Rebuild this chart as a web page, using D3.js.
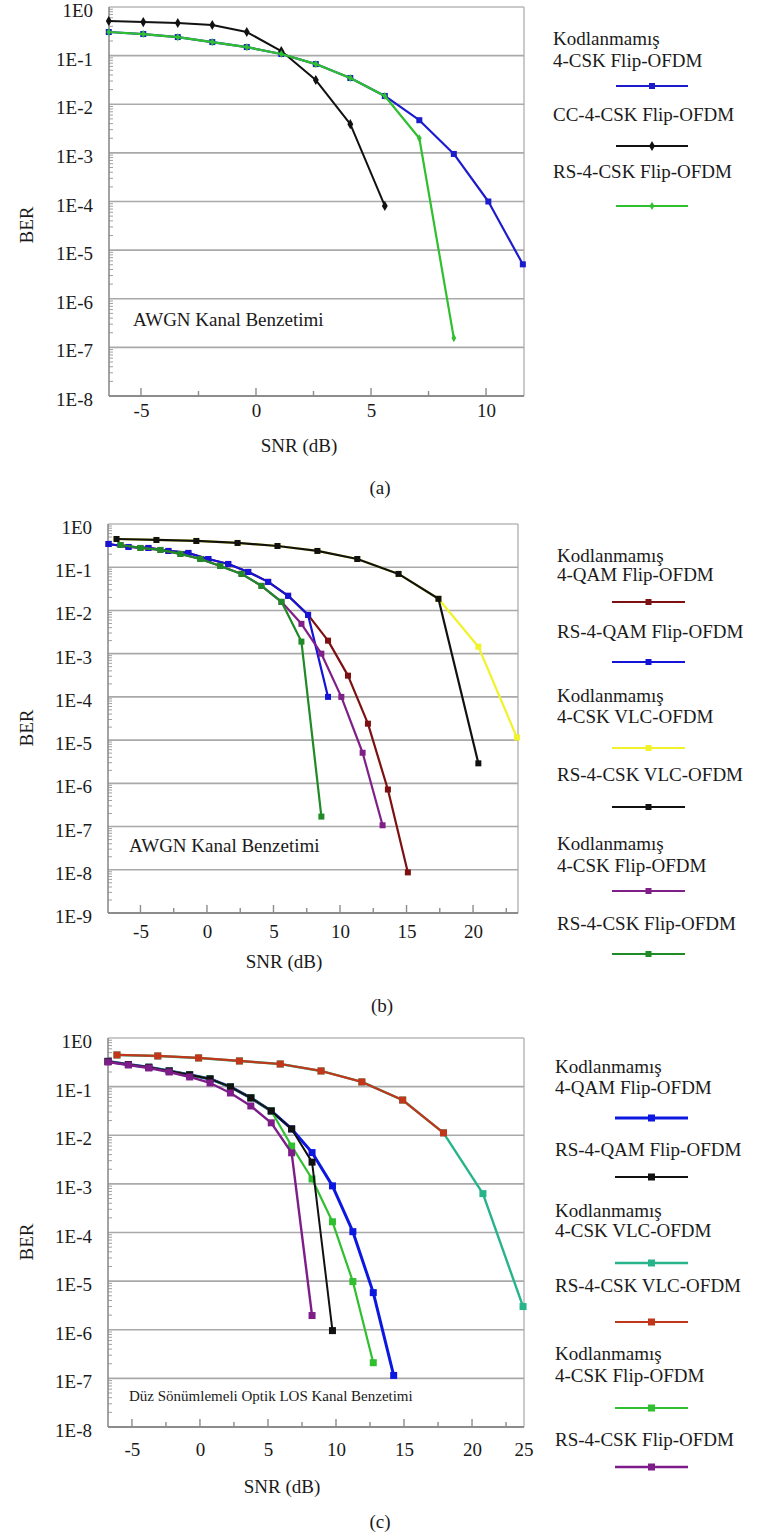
<!DOCTYPE html>
<html><head><meta charset="utf-8">
<script src="https://cdn.jsdelivr.net/npm/d3@7"></script>
<style>
body{margin:0;background:#fff}
svg text{font-family:"Liberation Serif","Times New Roman","DejaVu Serif",serif;fill:#1a1a1a}
</style>
</head><body>
<svg id="chart" width="758" height="1535" font-family="Liberation Serif, Times New Roman, serif"></svg>
<script>
// ---------- Panel (a) data ----------
const aSNR = [-6.4, -4.9, -3.4, -1.9, -0.4, 1.1, 2.6, 4.1, 5.6, 7.1, 8.6, 10.1, 11.6];
const aBerUncodedFlip = [0.306, 0.278, 0.241, 0.19, 0.150, 0.108, 0.067, 0.0346, 0.0148, 4.7e-3, 9.5e-4, 1.0e-4, 5.1e-6];
const aBerCCFlip = [0.515, 0.49, 0.469, 0.426, 0.306, 0.124, 0.0315, 3.9e-3, 8.1e-5];
const aBerRSFlip = [0.306, 0.278, 0.241, 0.19, 0.150, 0.108, 0.067, 0.0346, 0.0148, 2.0e-3, 1.55e-7];
const aLegend = [["Kodlanmamış", "4-CSK Flip-OFDM"], ["CC-4-CSK Flip-OFDM"], ["RS-4-CSK Flip-OFDM"]];

// ---------- Panel (b) data ----------
const bSNRqam = [-7.4, -5.9, -4.4, -2.9, -1.4, 0.1, 1.6, 3.1, 4.6, 6.1, 7.6, 9.1, 10.6, 12.1, 13.6, 15.1];
const bBerUncodedQAM = [0.345, 0.294, 0.279, 0.238, 0.214, 0.155, 0.119, 0.0778, 0.0458, 0.0218, 7.9e-3, 2.0e-3, 3.1e-4, 2.4e-5, 7.2e-7, 8.7e-9];
const bBerRSQAM = [0.345, 0.294, 0.279, 0.238, 0.214, 0.155, 0.119, 0.0778, 0.0458, 0.0218, 7.9e-3, 1.0e-4];
const bSNRvlc = [-6.8, -3.8, -0.8, 2.3, 5.3, 8.3, 11.3, 14.4, 17.4, 20.4, 23.3];
const bBerUncodedVLC = [0.45, 0.427, 0.405, 0.364, 0.31, 0.238, 0.155, 0.07, 0.0186, 1.45e-3, 1.15e-5];
const bBerRSVLC = [0.45, 0.427, 0.405, 0.364, 0.31, 0.238, 0.155, 0.07, 0.0186, 2.9e-6];
const bSNRflip = [-6.5, -5.0, -3.5, -2.0, -0.5, 1.0, 2.6, 4.1, 5.6, 7.1, 8.6, 10.1, 11.7, 13.2];
const bBerUncodedFlip = [0.327, 0.279, 0.251, 0.203, 0.155, 0.107, 0.07, 0.037, 0.0158, 4.9e-3, 1.0e-3, 1.0e-4, 5.1e-6, 1.07e-7];
const bBerRSFlip = [0.327, 0.279, 0.251, 0.203, 0.155, 0.107, 0.07, 0.037, 0.0158, 1.9e-3, 1.7e-7];
const bLegend = [["Kodlanmamış", "4-QAM Flip-OFDM"], ["RS-4-QAM Flip-OFDM"], ["Kodlanmamış", "4-CSK VLC-OFDM"],
                 ["RS-4-CSK VLC-OFDM"], ["Kodlanmamış", "4-CSK Flip-OFDM"], ["RS-4-CSK Flip-OFDM"]];

// ---------- Panel (c) data ----------
const cSNRflip = [-6.76, -5.26, -3.76, -2.26, -0.76, 0.74, 2.24, 3.74, 5.24, 6.74, 8.24, 9.74, 11.24, 12.74, 14.24];
const cBerUncodedQAM = [0.33, 0.285, 0.25, 0.21, 0.175, 0.144, 0.0986, 0.0587, 0.0316, 0.0135, 4.4e-3, 9.1e-4, 1.04e-4, 5.8e-6, 1.15e-7];
const cBerRSQAM = [0.33, 0.285, 0.25, 0.21, 0.175, 0.144, 0.0986, 0.0587, 0.0316, 0.0135, 2.8e-3, 9.6e-7];
const cBerUncodedFlip = [0.33, 0.285, 0.25, 0.21, 0.175, 0.144, 0.0986, 0.0587, 0.0316, 6.0e-3, 1.26e-3, 1.66e-4, 9.8e-6, 2.1e-7];
const cBerRSFlip = [0.321, 0.279, 0.242, 0.2, 0.158, 0.119, 0.074, 0.04, 0.018, 4.36e-3, 1.96e-6];
const cSNRvlc = [-6.1, -3.1, -0.1, 2.9, 5.9, 8.9, 11.9, 14.9, 17.9, 20.8, 23.75];
const cBerUncodedVLC = [0.448, 0.427, 0.389, 0.337, 0.292, 0.21, 0.125, 0.053, 0.0112, 6.3e-4, 3.0e-6];
const cBerRSVLC = [0.448, 0.427, 0.389, 0.337, 0.292, 0.21, 0.125, 0.053, 0.0112];
const cLegend = bLegend;

// ---------- Shared labels ----------
const yTitle = "BER";
const xTitle = "SNR (dB)";
const captions = ["(a)", "(b)", "(c)"];
const noteA = "AWGN Kanal Benzetimi";
const noteC = "Düz Sönümlemeli Optik LOS Kanal Benzetimi";

const zip = (xs, ys) => ys.map((v, i) => ({x: xs[i], y: v}));

const panels = [
  {
    box: {l: 109, t: 7, r: 524, b: 396}, xDom: [-6.39, 11.65], yMin: 1e-8,
    xMajor: [-5, 0, 5, 10], xMinor: [-2.5, 2.5, 7.5], extraXLabel: null,
    xLabelOff: 21, yTitlePos: [33, 225], xTitlePos: [299, 452], caption: [380, 494],
    note: {text: noteA, x: 133, y: 326, size: 19},
    drawOrder: [0, 1, 2],
    series: [
      {d: zip(aSNR, aBerUncodedFlip), c: "#1c1ccc", w: 2.2, m: "square", s: 6},
      {d: zip(aSNR, aBerCCFlip), c: "#111", w: 2, m: "diamond", s: 5},
      {d: zip(aSNR, aBerRSFlip), c: "#2fbf2f", w: 2.2, m: "diamond", s: 4}
    ],
    legend: {labels: aLegend, tx: 553, base: [[45, 67], [121], [178]], ly: [86, 146, 206], lx: [616, 688]}
  },
  {
    box: {l: 108, t: 524, r: 518, b: 913}, xDom: [-7.44, 23.38], yMin: 1e-9,
    xMajor: [-5, 0, 5, 10, 15, 20], xMinor: [-2.5, 2.5, 7.5, 12.5, 17.5, 22.5], extraXLabel: null,
    xLabelOff: 25, yTitlePos: [33, 728], xTitlePos: [284, 968], caption: [382, 1012],
    note: {text: noteA, x: 129, y: 852, size: 19},
    drawOrder: [0, 1, 2, 3, 4, 5],
    series: [
      {d: zip(bSNRqam, bBerUncodedQAM), c: "#7d1010", w: 2.2, m: "square", s: 6},
      {d: zip(bSNRqam, bBerRSQAM), c: "#1414d8", w: 2.2, m: "square", s: 6},
      {d: zip(bSNRvlc, bBerUncodedVLC), c: "#f2f22a", w: 2.2, m: "square", s: 6},
      {d: zip(bSNRvlc, bBerRSVLC), c: "#111", w: 2.2, m: "square", s: 6},
      {d: zip(bSNRflip, bBerUncodedFlip), c: "#7f2088", w: 2.2, m: "square", s: 6},
      {d: zip(bSNRflip, bBerRSFlip), c: "#1f8a26", w: 2.2, m: "square", s: 6}
    ],
    legend: {labels: bLegend, tx: 557, base: [[562, 581], [638], [702, 723], [781], [850, 872], [930]],
             ly: [602, 662, 748, 807, 891, 954], lx: [612, 685]}
  },
  {
    box: {l: 108, t: 1038, r: 524, b: 1427}, xDom: [-6.76, 23.82], yMin: 1e-8,
    xMajor: [-5, 0, 5, 10, 15, 20], xMinor: [-2.5, 2.5, 7.5, 12.5, 17.5, 22.5], extraXLabel: "25",
    xLabelOff: 29, yTitlePos: [33, 1242], xTitlePos: [282, 1493], caption: [380, 1528],
    note: {text: noteC, x: 129, y: 1401, size: 15},
    drawOrder: [0, 4, 2, 3, 1, 5],
    series: [
      {d: zip(cSNRflip, cBerUncodedQAM), c: "#0c18e0", w: 3, m: "square", s: 7},
      {d: zip(cSNRflip, cBerRSQAM), c: "#111", w: 2, m: "square", s: 7},
      {d: zip(cSNRvlc, cBerUncodedVLC), c: "#27b48a", w: 2.4, m: "square", s: 7},
      {d: zip(cSNRvlc, cBerRSVLC), c: "#c2361a", w: 2.2, m: "square", s: 7},
      {d: zip(cSNRflip, cBerUncodedFlip), c: "#2fbf2f", w: 2.2, m: "square", s: 7},
      {d: zip(cSNRflip, cBerRSFlip), c: "#7e1d8a", w: 2.4, m: "square", s: 7}
    ],
    legend: {labels: cLegend, tx: 555, base: [[1073, 1094], [1156], [1217, 1237], [1292], [1360, 1382], [1446]],
             ly: [1118, 1177, 1263, 1322, 1408, 1467], lx: [615, 688]}
  }
];

const svg = d3.select("#chart");
const gridColor = "#a9a9a9", axisColor = "#8c8c8c";
const FONT = '"Liberation Serif","Times New Roman","DejaVu Serif",serif';

function drawMarker(g, m, cx, cy, s, color) {
  if (m === "square") {
    g.append("rect").attr("x", cx - s / 2).attr("y", cy - s / 2).attr("width", s).attr("height", s).attr("fill", color);
  } else {
    g.append("path").attr("d", d3.symbol(d3.symbolDiamond, s * s * 1.2)()).attr("transform", `translate(${cx},${cy})`).attr("fill", color);
  }
}

function txt(g) {
  return g.append("text").style("font-family", FONT).style("font-size", "19px").attr("fill", "#1a1a1a");
}

panels.forEach((p, pi) => {
  const B = p.box;
  const x = d3.scaleLinear().domain(p.xDom).range([B.l, B.r]);
  const y = d3.scaleLog().domain([p.yMin, 1]).range([B.b, B.t]);
  const g = svg.append("g");
  const nDec = Math.round(-Math.log10(p.yMin));
  const decades = d3.range(0, nDec + 1).map(k => Math.pow(10, -k));

  // frame (top & right)
  g.append("line").attr("x1", B.l).attr("x2", B.r).attr("y1", B.t).attr("y2", B.t).attr("stroke", "#b9b9b9").attr("stroke-width", 1.5);
  g.append("line").attr("x1", B.r).attr("x2", B.r).attr("y1", B.t).attr("y2", B.b).attr("stroke", "#b9b9b9").attr("stroke-width", 1.5);
  // gridlines
  g.selectAll(".grid").data(decades.filter(d => d > p.yMin && d < 1)).enter().append("line")
    .attr("x1", B.l).attr("x2", B.r).attr("y1", d => y(d)).attr("y2", d => y(d))
    .attr("stroke", gridColor).attr("stroke-width", 1.6);

  // y minor ticks
  const minors = [];
  for (let k = 1; k <= nDec; k++) for (let m = 2; m <= 9; m++) minors.push(m * Math.pow(10, -k));
  g.selectAll(".ymin").data(minors).enter().append("line")
    .attr("x1", B.l).attr("x2", B.l + 4).attr("y1", d => y(d)).attr("y2", d => y(d))
    .attr("stroke", "#a0a0a0").attr("stroke-width", 1);

  // axis lines
  g.append("line").attr("x1", B.l).attr("x2", B.l).attr("y1", B.t).attr("y2", B.b).attr("stroke", axisColor).attr("stroke-width", 1.6);
  g.append("line").attr("x1", B.l).attr("x2", B.r).attr("y1", B.b).attr("y2", B.b).attr("stroke", axisColor).attr("stroke-width", 1.8);

  // x ticks (inside, upward)
  g.selectAll(".xmaj").data(p.xMajor).enter().append("line")
    .attr("x1", d => x(d)).attr("x2", d => x(d)).attr("y1", B.b).attr("y2", B.b - 8)
    .attr("stroke", axisColor).attr("stroke-width", 1.4);
  g.selectAll(".xmin").data(p.xMinor.filter(d => d > p.xDom[0] && d < p.xDom[1])).enter().append("line")
    .attr("x1", d => x(d)).attr("x2", d => x(d)).attr("y1", B.b).attr("y2", B.b - 5)
    .attr("stroke", axisColor).attr("stroke-width", 1.4);

  // y axis labels
  const yAxis = d3.axisLeft(y).tickValues(decades).tickSize(0).tickPadding(16)
    .tickFormat(d => "1E" + Math.round(Math.log10(d)));
  const ya = g.append("g").attr("transform", `translate(${B.l},0)`).call(yAxis);
  ya.select(".domain").remove();
  ya.attr("font-family", null).attr("font-size", null);
  ya.selectAll("text").attr("dy", "0.5em").style("font-size", "19px").attr("fill", "#1a1a1a").style("font-family", FONT);

  // x axis labels
  const xAxis = d3.axisBottom(x).tickValues(p.xMajor).tickSize(0).tickFormat(d => String(d));
  const xa = g.append("g").attr("transform", `translate(0,${B.b})`).call(xAxis);
  xa.select(".domain").remove();
  xa.attr("font-family", null).attr("font-size", null);
  xa.selectAll("text").attr("y", p.xLabelOff).attr("dy", 0).style("font-size", "19px")
    .attr("fill", "#1a1a1a").style("font-family", FONT);
  if (p.extraXLabel) {
    txt(g).attr("x", x.range()[1]).attr("y", B.b + p.xLabelOff).attr("text-anchor", "middle").text(p.extraXLabel);
  }

  // titles
  txt(g).attr("transform", `translate(${p.yTitlePos[0]},${p.yTitlePos[1]}) rotate(-90)`)
    .attr("text-anchor", "middle").text(yTitle);
  txt(g).attr("x", p.xTitlePos[0]).attr("y", p.xTitlePos[1]).attr("text-anchor", "middle").text(xTitle);
  txt(g).attr("x", p.caption[0]).attr("y", p.caption[1]).attr("text-anchor", "middle").text(captions[pi]);
  txt(g).attr("x", p.note.x).attr("y", p.note.y).style("font-size", p.note.size + "px").text(p.note.text);

  // series (drawn in stacking order of the original)
  const line = d3.line().x(d => x(d.x)).y(d => y(d.y));
  p.drawOrder.forEach(idx => {
    const s = p.series[idx];
    g.append("path").datum(s.d).attr("d", line).attr("fill", "none").attr("stroke", s.c)
      .attr("stroke-width", s.w).attr("stroke-linejoin", "round");
    s.d.forEach(pt => drawMarker(g, s.m, x(pt.x), y(pt.y), s.s, s.c));
  });

  // legend
  const L = p.legend;
  L.labels.forEach((lab, i) => {
    lab.forEach((t, j) => {
      txt(g).attr("x", L.tx).attr("y", L.base[i][j]).text(t);
    });
    const s = p.series[i];
    g.append("line").attr("x1", L.lx[0]).attr("x2", L.lx[1]).attr("y1", L.ly[i]).attr("y2", L.ly[i])
      .attr("stroke", s.c).attr("stroke-width", s.w);
    drawMarker(g, s.m, (L.lx[0] + L.lx[1]) / 2, L.ly[i], s.s, s.c);
  });
});
</script>
</body></html>
